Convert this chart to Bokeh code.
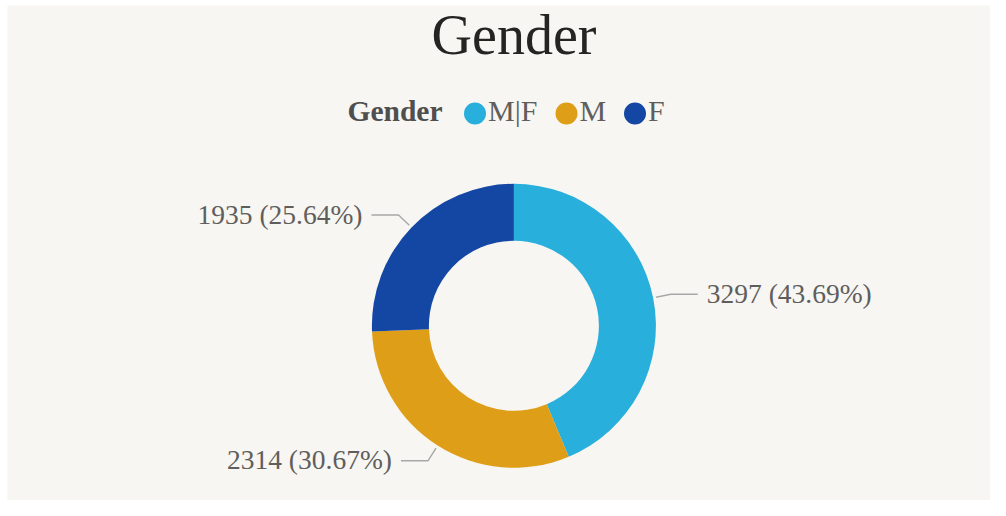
import math
from bokeh.plotting import figure
from bokeh.models import Range1d, ColumnDataSource
from bokeh.embed import file_html
from bokeh.resources import INLINE
from bokeh.core.properties import value

# ---- data ----
categories = ["M|F", "M", "F"]
counts = [3297, 2314, 1935]
colors = ["#29AFDC", "#DE9E17", "#1447A3"]
chart_title = "Gender"
legend_title = "Gender"

# ---- layout / style ----
BG = "#F7F6F2"
W, H = 990, 500
LEFT, TOP = 7, 5
FONT = "Liberation Serif"
LABEL_COLOR = "#605E5C"
LINE_COLOR = "#A8A8A8"
BASE_FIX = 0.36  # em shift to correct the alphabetic baseline placement


def fx(px):
    return px


def fy(py):
    return H - py


cx, cy = fx(513.4), fy(325.3)
R_OUT, R_IN = 142, 85
R_LINE0, R_ELBOW, HLEN, GAP = 145, 160, 27, 9

p = figure(width=W, height=H, output_backend="svg", toolbar_location=None,
           x_range=Range1d(LEFT, W), y_range=Range1d(0, H - TOP),
           min_border=0, min_border_left=LEFT, min_border_top=TOP,
           x_axis_type=None, y_axis_type=None)
p.grid.visible = False
p.outline_line_color = None
p.background_fill_color = BG
p.border_fill_color = "white"


def put_text(px, py_base, txt, size, align="left", color=LABEL_COLOR,
             style="normal"):
    p.text(x=[fx(px)], y=[fy(py_base - BASE_FIX * size)], text=[txt],
           text_align=align, text_baseline="alphabetic",
           text_font=value(FONT), text_font_size=f"{size}px",
           text_font_style=style, text_color=color)


total = sum(counts)
fracs = [c / total for c in counts]
starts, ends, mids = [], [], []
cum = 0.0
for f in fracs:
    a0 = math.pi / 2 - 2 * math.pi * cum
    a1 = math.pi / 2 - 2 * math.pi * (cum + f)
    starts.append(a0)
    ends.append(a1)
    mids.append((a0 + a1) / 2)
    cum += f

src = ColumnDataSource(dict(cat=categories, count=counts, start=starts,
                            end=ends, color=colors))
p.annular_wedge(x=cx, y=cy, inner_radius=R_IN, outer_radius=R_OUT,
                start_angle="start", end_angle="end", direction="clock",
                fill_color="color", line_color=None, source=src)

# leader lines and data labels
xs, ys = [], []
for i, a in enumerate(mids):
    x0, y0 = cx + R_LINE0 * math.cos(a), cy + R_LINE0 * math.sin(a)
    xe, ye = cx + R_ELBOW * math.cos(a), cy + R_ELBOW * math.sin(a)
    side = 1 if math.cos(a) >= 0 else -1
    xh = xe + side * HLEN
    xs.append([x0, xe, xh])
    ys.append([y0, ye, ye])
    pct = 100 * counts[i] / total
    lbl = f"{counts[i]} ({pct:.2f}%)"
    line_py = H - ye
    put_text(xh + side * GAP, line_py + 9, lbl, 27.5,
             align="left" if side > 0 else "right")
p.multi_line(xs=xs, ys=ys, line_color=LINE_COLOR, line_width=1.4)

# title
put_text(513.5, 55, chart_title, 56, align="center", color="#252423")

# legend
legend_py = 113
put_text(347, 121, legend_title, 29.5, color="#4F4F4F", style="bold")
legend_cx = [474.5, 566, 634.5]
for i, cat in enumerate(categories):
    p.scatter(x=[fx(legend_cx[i])], y=[fy(legend_py)], size=22,
              marker="circle", fill_color=colors[i], line_color=None)
    put_text(legend_cx[i] + 13, 121, cat, 30)

open("out.html", "w").write(file_html(p, INLINE))
